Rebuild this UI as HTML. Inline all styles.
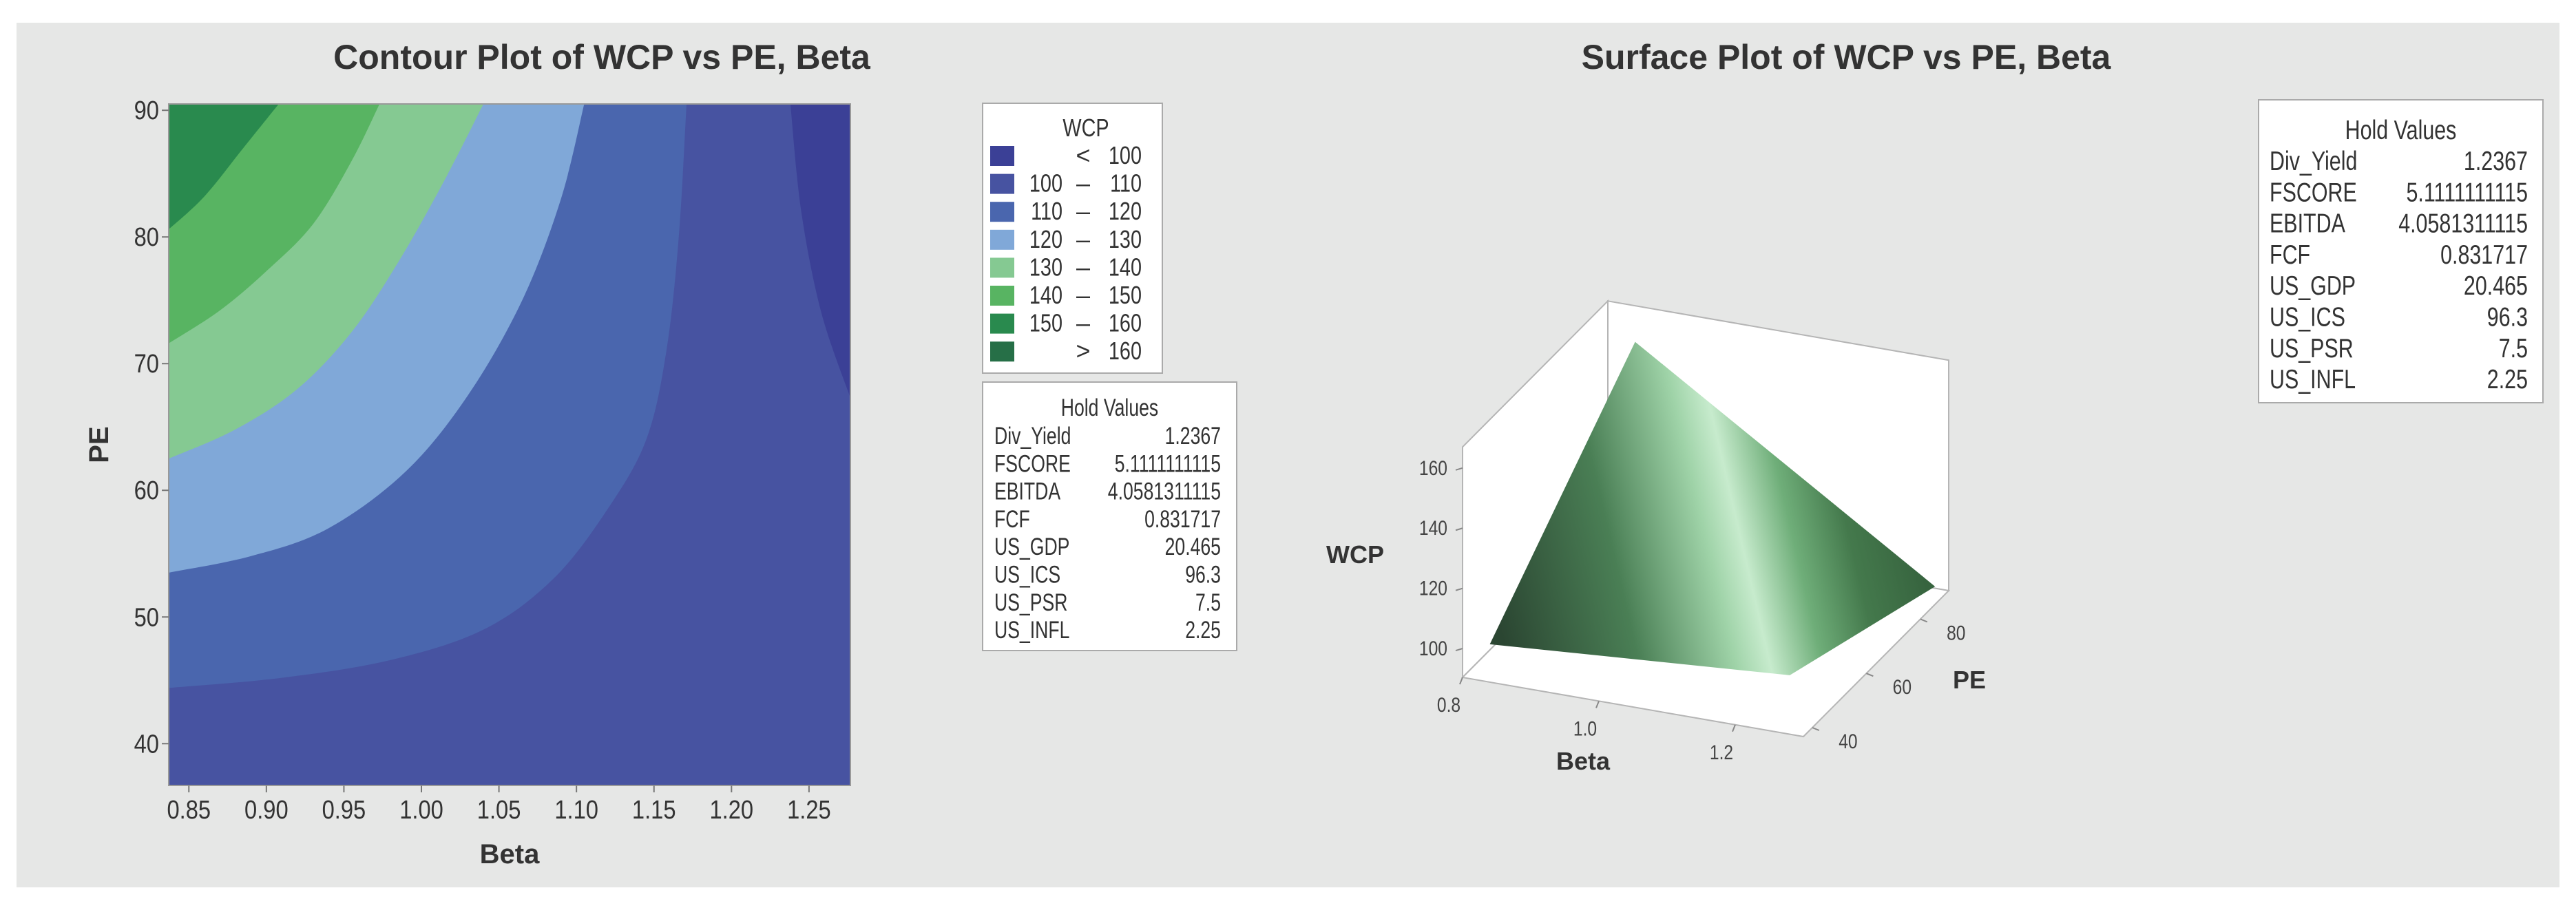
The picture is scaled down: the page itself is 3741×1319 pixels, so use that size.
<!DOCTYPE html>
<html><head><meta charset="utf-8">
<style>
html,body{margin:0;padding:0;background:#fff;}
svg{display:block;font-family:"Liberation Sans",sans-serif;}
</style></head>
<body>
<svg id="chart" width="3741" height="1319" viewBox="0 0 3741 1319" xmlns="http://www.w3.org/2000/svg">
<defs>
<linearGradient id="surfGrad" gradientUnits="userSpaceOnUse" x1="2190" y1="960" x2="2790" y2="820">
<stop offset="0" stop-color="#2b4632"/>
<stop offset="0.3" stop-color="#4a7f55"/>
<stop offset="0.52" stop-color="#9fd3a8"/>
<stop offset="0.6" stop-color="#c7ebcd"/>
<stop offset="0.72" stop-color="#6fae79"/>
<stop offset="0.85" stop-color="#44794c"/>
<stop offset="1" stop-color="#37643f"/>
</linearGradient>
</defs>
<rect x="24" y="33" width="3693" height="1256" fill="#e6e7e6"/>
<g id="contour"></g>
<g id="surface"></g>
</svg>
<script>
// ---------- Contour data ----------
const betaTicks = [0.85,0.90,0.95,1.00,1.05,1.10,1.15,1.20,1.25];
const peTicks = [40,50,60,70,80,90];
const legendLabels = [["","<","100"],["100","–","110"],["110","–","120"],["120","–","130"],["130","–","140"],["140","–","150"],["150","–","160"],["",">","160"]];
const levelColors = ["#3b4096","#4753a1","#4a66ae","#80a8d8","#85c992","#58b462","#298a4e","#266f47"];
// contour boundaries [beta, PE], traced from top edge to left edge
const bound160 = [[0.908,90.5],[0.885,87],[0.86,83.2],[0.837,80.6]];
const bound150 = [[0.973,90.5],[0.955,86],[0.93,81],[0.90,77.3],[0.87,74.2],[0.837,71.6]];
const bound140 = [[1.04,90.5],[1.015,84.5],[0.985,78],[0.955,72.5],[0.92,68],[0.88,64.8],[0.837,62.5]];
const bound130 = [[1.105,90.5],[1.09,83],[1.065,75],[1.03,67.5],[0.99,61.5],[0.94,57],[0.89,54.8],[0.837,53.5]];
const bound120 = [[1.171,90.5],[1.166,80],[1.158,71],[1.145,64],[1.12,58.5],[1.085,53],[1.04,49],[0.98,46.6],[0.91,45.2],[0.837,44.4]];
const bound100 = [[1.238,90.5],[1.245,82],[1.258,74],[1.277,67.2]];
const holdNames = ["Div_Yield","FSCORE","EBITDA","FCF","US_GDP","US_ICS","US_PSR","US_INFL"];
const holdVals = ["1.2367","5.1111111115","4.0581311115","0.831717","20.465","96.3","7.5","2.25"];
// ---------- Surface data ----------
const wcpTicks = [100,120,140,160];
const beta3dTicks = [0.8,1.0,1.2];
const pe3dTicks = [40,60,80];
// surface corner WCP values: [beta, PE, WCP]
const surfCorners = [[0.84,36.7,103],[1.28,36.7,110],[1.28,90.5,91],[0.84,90.5,155]];

const NS="http://www.w3.org/2000/svg";
function mk(tag,attrs,parent,text){const e=document.createElementNS(NS,tag);for(const k in attrs)e.setAttribute(k,attrs[k]);if(text!==undefined)e.textContent=text;parent.appendChild(e);return e;}
function cond(el,f){const w=el.getComputedTextLength();if(w>0){el.setAttribute('textLength',(w*f).toFixed(1));el.setAttribute('lengthAdjust','spacingAndGlyphs');}return el;}
function smoothPath(pts){
  let d='M'+pts[0][0]+','+pts[0][1];
  for(let i=0;i<pts.length-1;i++){
    const p0=pts[Math.max(i-1,0)],p1=pts[i],p2=pts[i+1],p3=pts[Math.min(i+2,pts.length-1)];
    const c1=[p1[0]+(p2[0]-p0[0])/6,p1[1]+(p2[1]-p0[1])/6];
    const c2=[p2[0]-(p3[0]-p1[0])/6,p2[1]-(p3[1]-p1[1])/6];
    d+=' C'+c1[0]+','+c1[1]+' '+c2[0]+','+c2[1]+' '+p2[0]+','+p2[1];
  }
  return d;
}

// contour axes
const X0=245,X1=1235,Y0=151,Y1=1141,BMIN=0.837,BMAX=1.2767,PMIN=36.7,PMAX=90.5;
const xs=b=>X0+(b-BMIN)/(BMAX-BMIN)*(X1-X0);
const ys=p=>Y1-(p-PMIN)/(PMAX-PMIN)*(Y1-Y0);
const C=document.getElementById('contour');
let t=mk('text',{x:874,y:100,'text-anchor':'middle','font-size':50,'font-weight':'bold',fill:'#333'},C,'Contour Plot of WCP vs PE, Beta');


const plot=mk('g',{},C);


let r=mk('rect',{x:X0,y:Y0,width:X1-X0,height:Y1-Y0,fill:levelColors[6]},plot);


const bounds=[bound160,bound150,bound140,bound130,bound120];
const fills=[levelColors[5],levelColors[4],levelColors[3],levelColors[2],levelColors[1]];
const names=['region-140-150','region-130-140','region-120-130','region-110-120','region-100-110'];
bounds.forEach((bd,i)=>{
  const pts=bd.map(p=>[xs(p[0]),ys(p[1])]);
  let d=smoothPath(pts);
  d+=' L'+xs(BMIN)+','+ys(PMIN)+' L'+xs(BMAX)+','+ys(PMIN)+' L'+xs(BMAX)+','+ys(PMAX)+' Z';
  const pg=mk('path',{d:d,fill:fills[i]},plot);
  
  
});
{const pts=bound100.map(p=>[xs(p[0]),ys(p[1])]);
let d=smoothPath(pts)+' L'+xs(BMAX)+','+ys(PMAX)+' Z';
const pg=mk('path',{d:d,fill:levelColors[0]},plot);

}
mk('rect',{x:X0,y:Y0,width:X1-X0,height:Y1-Y0,fill:'none',stroke:'#999','stroke-width':2},plot);
betaTicks.forEach(b=>{
  mk('line',{x1:xs(b),x2:xs(b),y1:Y1,y2:Y1+10,stroke:'#777','stroke-width':2},C);
  const tx=mk('text',{x:xs(b),y:Y1+48,'text-anchor':'middle','font-size':38,fill:'#333'},C,b.toFixed(2));
  
  
  cond(tx,0.86);
});
peTicks.forEach(p=>{
  mk('line',{x1:X0-10,x2:X0,y1:ys(p),y2:ys(p),stroke:'#777','stroke-width':2},C);
  const tx=mk('text',{x:X0-14,y:ys(p)+13,'text-anchor':'end','font-size':38,fill:'#333'},C,String(p));
  
  
  cond(tx,0.86);
});
t=mk('text',{x:740,y:1254,'text-anchor':'middle','font-size':40,'font-weight':'bold',fill:'#333'},C,'Beta');


t=mk('text',{x:157,y:646,'text-anchor':'middle','font-size':40,'font-weight':'bold',fill:'#333',transform:'rotate(-90 157 646)'},C,'PE');


// legend
const L=mk('g',{},C);


mk('rect',{x:1427,y:150,width:261,height:392,fill:'#fff',stroke:'#aaa','stroke-width':2},L);
cond(mk('text',{x:1577,y:198,'text-anchor':'middle','font-size':36,fill:'#333'},L,'WCP'),0.8);
legendLabels.forEach((lab,i)=>{
  const cy=226+i*40.6;
  const g=mk('g',{},L);
  
  
  mk('rect',{x:1438,y:cy-14,width:35,height:29,fill:levelColors[i]},g);
  cond(mk('text',{x:1543,y:cy+12,'text-anchor':'end','font-size':36,fill:'#333'},g,lab[0]),0.8);
  mk('text',{x:1573,y:cy+12,'text-anchor':'middle','font-size':36,fill:'#333'},g,lab[1]);
  cond(mk('text',{x:1658,y:cy+12,'text-anchor':'end','font-size':36,fill:'#333'},g,lab[2]),0.8);
});
function holdBox(parent,x,y,w,h,lx,rx,ty,ry0,step,fs,f,name){
  const H=mk('g',{},parent);
  
  
  mk('rect',{x:x,y:y,width:w,height:h,fill:'#fff',stroke:'#aaa','stroke-width':2},H);
  cond(mk('text',{x:x+w/2,y:ty,'text-anchor':'middle','font-size':fs,fill:'#333'},H,'Hold Values'),f);
  holdNames.forEach((n,i)=>{
    const yy=ry0+i*step;
    const a=mk('text',{x:lx,y:yy,'font-size':fs,fill:'#333'},H,n);
    
    
    cond(a,f);
    const b=mk('text',{x:rx,y:yy,'text-anchor':'end','font-size':fs,fill:'#333'},H,holdVals[i]);
    
    
    cond(b,f);
  });
}
holdBox(C,1427,555,369,390,1444,1773,604,645,40.3,35,0.76,'hold-values-contour');

// ---------- Surface ----------
const S=document.getElementById('surface');
t=mk('text',{x:2681,y:100,'text-anchor':'middle','font-size':50,'font-weight':'bold',fill:'#333'},S,'Surface Plot of WCP vs PE, Beta');


holdBox(S,3280,145,413,440,3296,3671,202,247,45.3,39,0.78,'hold-values-surface');
// projection
const OX=2124,OY=984, VB=[495,86], VP=[211,-212], B3MIN=0.8,B3MAX=1.3, P3MIN=36.7,P3MAX=90.5, WFLOOR=90.4, KZ=4.37;
function proj(b,p,w){const u=(b-B3MIN)/(B3MAX-B3MIN),v=(p-P3MIN)/(P3MAX-P3MIN);return [OX+u*VB[0]+v*VP[0], OY+u*VB[1]+v*VP[1]-(w-WFLOOR)*KZ];}
const WTOP=167;
const A=proj(B3MIN,P3MIN,WFLOOR),Bf=proj(B3MAX,P3MIN,WFLOOR),Cr=proj(B3MAX,P3MAX,WFLOOR),Dk=proj(B3MIN,P3MAX,WFLOOR);
const At=proj(B3MIN,P3MIN,WTOP),Dt=proj(B3MIN,P3MAX,WTOP),Ct=proj(B3MAX,P3MAX,WTOP);
const P=a=>a.map(q=>q[0]+','+q[1]).join(' ');
const box=mk('g',{fill:'#fff',stroke:'#b5b5b5','stroke-width':2},S);


mk('polygon',{points:P([Dk,Dt,Ct,Cr])},box);
mk('polygon',{points:P([A,At,Dt,Dk])},box);
mk('polygon',{points:P([A,Dk,Cr,Bf])},box);
const sp=mk('polygon',{points:P(surfCorners.map(c=>proj(c[0],c[1],c[2]))),fill:'url(#surfGrad)'},S);


wcpTicks.forEach(w=>{
  const q=proj(B3MIN,P3MIN,w);
  mk('line',{x1:q[0]-10,y1:q[1]+3,x2:q[0],y2:q[1],stroke:'#888','stroke-width':2},S);
  const tx=mk('text',{x:q[0]-22,y:q[1]+10,'text-anchor':'end','font-size':30,fill:'#444'},S,String(w));
  
  
  cond(tx,0.82);
});
beta3dTicks.forEach(b=>{
  const q=proj(b,P3MIN,WFLOOR);
  mk('line',{x1:q[0],y1:q[1],x2:q[0]-4,y2:q[1]+10,stroke:'#888','stroke-width':2},S);
  const tx=mk('text',{x:q[0]-20,y:q[1]+50,'text-anchor':'middle','font-size':30,fill:'#444'},S,b.toFixed(1));
  
  
  cond(tx,0.82);
});
pe3dTicks.forEach(p=>{
  const q=proj(B3MAX,p,WFLOOR);
  mk('line',{x1:q[0],y1:q[1],x2:q[0]+10,y2:q[1]+4,stroke:'#888','stroke-width':2},S);
  const tx=mk('text',{x:q[0]+52,y:q[1]+30,'text-anchor':'middle','font-size':30,fill:'#444'},S,String(p));
  
  
  cond(tx,0.82);
});
t=mk('text',{x:1968,y:818,'text-anchor':'middle','font-size':36,'font-weight':'bold',fill:'#333'},S,'WCP');


t=mk('text',{x:2299,y:1118,'text-anchor':'middle','font-size':36,'font-weight':'bold',fill:'#333'},S,'Beta');


t=mk('text',{x:2860,y:1000,'text-anchor':'middle','font-size':36,'font-weight':'bold',fill:'#333'},S,'PE');


</script>
</body></html>
